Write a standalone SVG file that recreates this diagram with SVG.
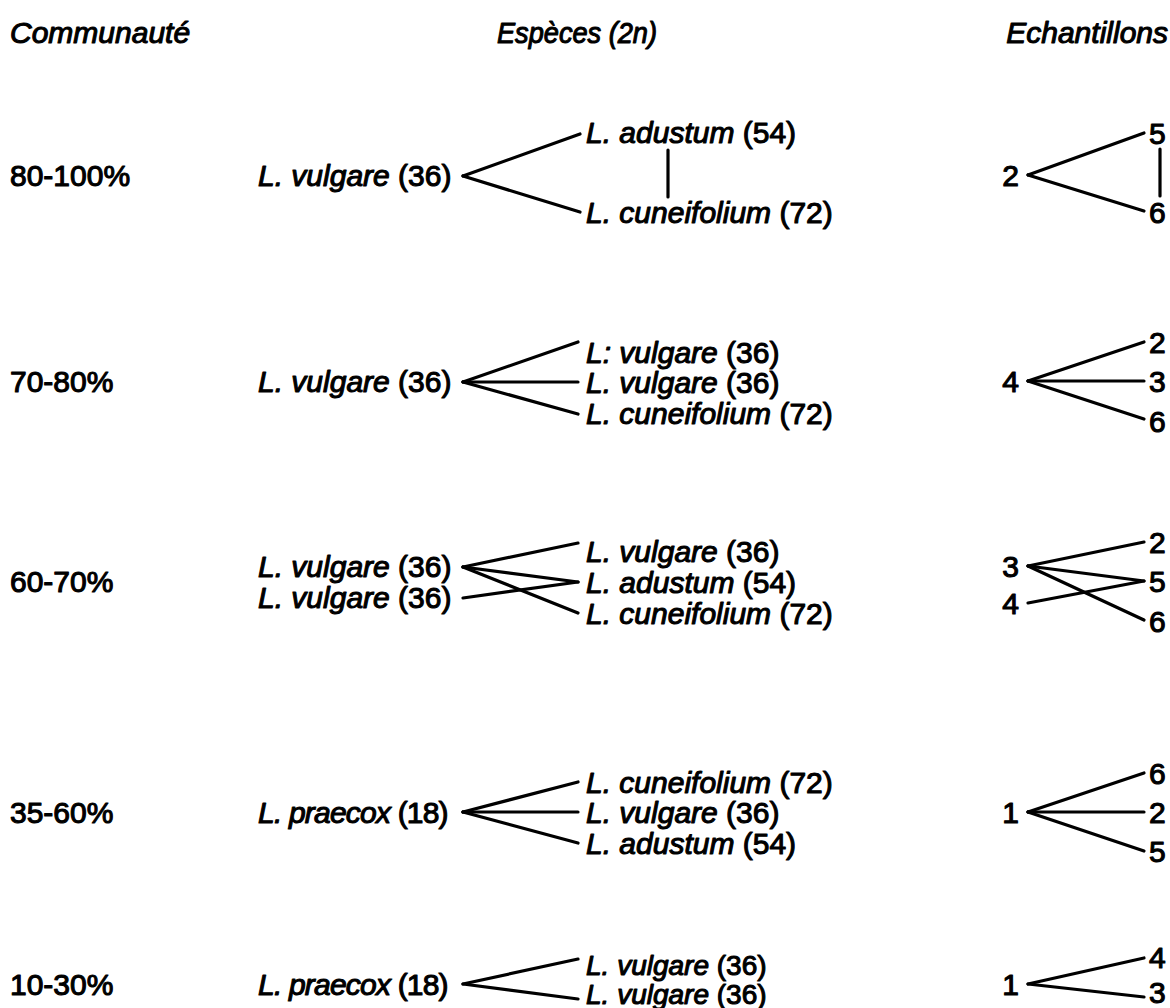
<svg xmlns="http://www.w3.org/2000/svg" width="1170" height="1008" viewBox="0 0 1170 1008">
<style>
text{font-family:"Liberation Sans",Arial,Helvetica,sans-serif;font-size:30px;fill:#000;stroke:#000;stroke-width:1.1;stroke-linejoin:round}
.i{font-style:italic}
.e{text-anchor:end}
.pr{letter-spacing:-0.8px}
.sm{font-size:28px}
#connectors line{stroke:#000;stroke-width:3.2;stroke-linecap:round;fill:none}
</style>
<rect width="1170" height="1008" fill="#fff"/>
<g id="headers">
<text class="i" x="10" y="43">Communauté</text>
<text class="i" x="497" y="43" textLength="160" lengthAdjust="spacingAndGlyphs">Espèces (2n)</text>
<text class="i e" x="1168" y="43">Echantillons</text>
</g>
<g id="connectors">
<line x1="463" y1="176" x2="580" y2="134"/>
<line x1="463" y1="176" x2="580" y2="212"/>
<line x1="668" y1="150" x2="668" y2="197"/>
<line x1="1028" y1="175" x2="1144" y2="133"/>
<line x1="1028" y1="175" x2="1144" y2="211"/>
<line x1="1160" y1="149" x2="1160" y2="196"/>
<line x1="463" y1="382" x2="578" y2="342"/>
<line x1="463" y1="382" x2="578" y2="382"/>
<line x1="463" y1="382" x2="578" y2="414"/>
<line x1="1028" y1="381" x2="1144" y2="342"/>
<line x1="1028" y1="381" x2="1144" y2="381"/>
<line x1="1028" y1="381" x2="1144" y2="419"/>
<line x1="463" y1="567" x2="578" y2="543"/>
<line x1="463" y1="567" x2="578" y2="582"/>
<line x1="463" y1="567" x2="578" y2="613"/>
<line x1="463" y1="598" x2="578" y2="582"/>
<line x1="1028" y1="566" x2="1144" y2="542"/>
<line x1="1028" y1="566" x2="1144" y2="581"/>
<line x1="1028" y1="566" x2="1144" y2="620"/>
<line x1="1028" y1="603" x2="1144" y2="581"/>
<line x1="463" y1="812" x2="578" y2="782"/>
<line x1="463" y1="812" x2="578" y2="812"/>
<line x1="463" y1="812" x2="578" y2="843"/>
<line x1="1028" y1="812" x2="1144" y2="773"/>
<line x1="1028" y1="812" x2="1144" y2="812"/>
<line x1="1028" y1="812" x2="1144" y2="851"/>
<line x1="463" y1="984" x2="578" y2="959"/>
<line x1="463" y1="984" x2="578" y2="999"/>
<line x1="1028" y1="984" x2="1144" y2="958"/>
<line x1="1028" y1="984" x2="1144" y2="997"/>
</g>
<g id="row1">
<g id="comm1"><text x="10" y="186">80-100%</text></g>
<g id="sp1-src"><text x="258" y="186"><tspan class="i">L. vulgare</tspan> (36)</text></g>
<g id="sp1-a"><text x="586" y="143"><tspan class="i">L. adustum</tspan> (54)</text></g>
<g id="sp1-b"><text x="586" y="223"><tspan class="i">L. cuneifolium</tspan> (72)</text></g>
<g id="ech1-src"><text class="e" x="1019" y="186">2</text></g>
<g id="ech1-a"><text x="1149" y="144">5</text></g>
<g id="ech1-b"><text x="1149" y="223">6</text></g>
</g>
<g id="row2">
<g id="comm2"><text x="10" y="392">70-80%</text></g>
<g id="sp2-src"><text x="258" y="392"><tspan class="i">L. vulgare</tspan> (36)</text></g>
<g id="sp2-a"><text x="586" y="363"><tspan class="i">L: vulgare</tspan> (36)</text></g>
<g id="sp2-b"><text x="586" y="393"><tspan class="i">L. vulgare</tspan> (36)</text></g>
<g id="sp2-c"><text x="586" y="424"><tspan class="i">L. cuneifolium</tspan> (72)</text></g>
<g id="ech2-src"><text class="e" x="1019" y="392">4</text></g>
<g id="ech2-a"><text x="1149" y="353">2</text></g>
<g id="ech2-b"><text x="1149" y="392">3</text></g>
<g id="ech2-c"><text x="1149" y="432">6</text></g>
</g>
<g id="row3">
<g id="comm3"><text x="10" y="592">60-70%</text></g>
<g id="sp3-src1"><text x="258" y="577"><tspan class="i">L. vulgare</tspan> (36)</text></g>
<g id="sp3-src2"><text x="258" y="608"><tspan class="i">L. vulgare</tspan> (36)</text></g>
<g id="sp3-a"><text x="586" y="562"><tspan class="i">L. vulgare</tspan> (36)</text></g>
<g id="sp3-b"><text x="586" y="593"><tspan class="i">L. adustum</tspan> (54)</text></g>
<g id="sp3-c"><text x="586" y="624"><tspan class="i">L. cuneifolium</tspan> (72)</text></g>
<g id="ech3-src1"><text class="e" x="1019" y="577">3</text></g>
<g id="ech3-src2"><text class="e" x="1019" y="614">4</text></g>
<g id="ech3-a"><text x="1149" y="553">2</text></g>
<g id="ech3-b"><text x="1149" y="592">5</text></g>
<g id="ech3-c"><text x="1149" y="632">6</text></g>
</g>
<g id="row4">
<g id="comm4"><text x="10" y="823">35-60%</text></g>
<g id="sp4-src"><text class="pr" x="258" y="823"><tspan class="i">L. praecox</tspan> (18)</text></g>
<g id="sp4-a"><text x="586" y="793"><tspan class="i">L. cuneifolium</tspan> (72)</text></g>
<g id="sp4-b"><text x="586" y="823"><tspan class="i">L. vulgare</tspan> (36)</text></g>
<g id="sp4-c"><text x="586" y="854"><tspan class="i">L. adustum</tspan> (54)</text></g>
<g id="ech4-src"><text class="e" x="1019" y="823">1</text></g>
<g id="ech4-a"><text x="1149" y="784">6</text></g>
<g id="ech4-b"><text x="1149" y="823">2</text></g>
<g id="ech4-c"><text x="1149" y="862">5</text></g>
</g>
<g id="row5">
<g id="comm5"><text x="10" y="995">10-30%</text></g>
<g id="sp5-src"><text class="pr" x="258" y="995"><tspan class="i">L. praecox</tspan> (18)</text></g>
<g id="sp5-a"><text class="sm" x="586" y="975"><tspan class="i">L. vulgare</tspan> (36)</text></g>
<g id="sp5-b"><text class="sm" x="586" y="1004"><tspan class="i">L. vulgare</tspan> (36)</text></g>
<g id="ech5-src"><text class="e" x="1019" y="995">1</text></g>
<g id="ech5-a"><text x="1149" y="968">4</text></g>
<g id="ech5-b"><text x="1149" y="1003">3</text></g>
</g>
</svg>
